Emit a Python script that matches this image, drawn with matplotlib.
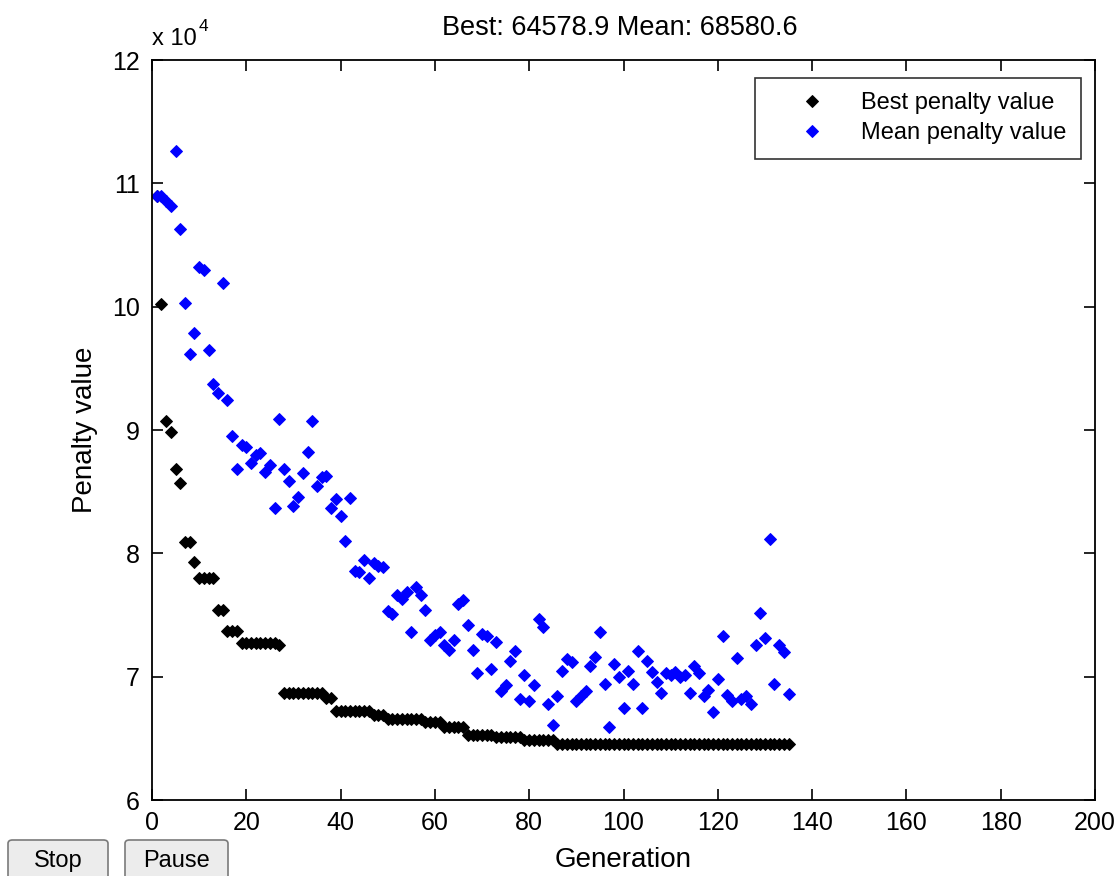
import matplotlib
matplotlib.use("Agg")
import matplotlib.pyplot as plt
from matplotlib.patches import FancyBboxPatch
import numpy as np

plt.rcParams['font.family'] = ['Liberation Sans', 'DejaVu Sans']

# ---------------- data (penalty values in units of 1e4) ----------------
title_text = "Best: 64578.9 Mean: 68580.6"
x_label = "Generation"
y_label = "Penalty value"
legend_labels = ["Best penalty value", "Mean penalty value"]
x_ticks = [0, 20, 40, 60, 80, 100, 120, 140, 160, 180, 200]
y_ticks = [6, 7, 8, 9, 10, 11, 12]
button_labels = ["Stop", "Pause"]

best_penalty = [
    10.90, 10.02, 9.075, 8.98, 8.68, 8.57, 8.09, 8.09, 7.93, 7.80,
    7.80, 7.80, 7.80, 7.54, 7.54, 7.37, 7.37, 7.37, 7.27, 7.27,
    7.27, 7.27, 7.27, 7.27, 7.27, 7.27, 7.26, 6.87, 6.87, 6.87,
    6.87, 6.87, 6.87, 6.87, 6.87, 6.87, 6.83, 6.83, 6.72, 6.72,
    6.72, 6.72, 6.72, 6.72, 6.72, 6.72, 6.69, 6.69, 6.69, 6.66,
    6.66, 6.66, 6.66, 6.66, 6.66, 6.66, 6.66, 6.63, 6.63, 6.63,
    6.63, 6.59, 6.59, 6.59, 6.59, 6.59, 6.53, 6.53, 6.53, 6.53,
    6.53, 6.53, 6.51, 6.51, 6.51, 6.51, 6.51, 6.51, 6.485, 6.485,
    6.485, 6.485, 6.485, 6.485, 6.485, 6.45789, 6.45789, 6.45789, 6.45789, 6.45789,
    6.45789, 6.45789, 6.45789, 6.45789, 6.45789, 6.45789, 6.45789, 6.45789, 6.45789, 6.45789,
    6.45789, 6.45789, 6.45789, 6.45789, 6.45789, 6.45789, 6.45789, 6.45789, 6.45789, 6.45789,
    6.45789, 6.45789, 6.45789, 6.45789, 6.45789, 6.45789, 6.45789, 6.45789, 6.45789, 6.45789,
    6.45789, 6.45789, 6.45789, 6.45789, 6.45789, 6.45789, 6.45789, 6.45789, 6.45789, 6.45789,
    6.45789, 6.45789, 6.45789, 6.45789, 6.45789,
]

mean_penalty = [
    10.90, 10.90, 10.86, 10.82, 11.26, 10.63, 10.03, 9.62, 9.79, 10.32,
    10.30, 9.65, 9.37, 9.30, 10.19, 9.24, 8.95, 8.68, 8.88, 8.86,
    8.73, 8.80, 8.81, 8.66, 8.72, 8.37, 9.09, 8.68, 8.59, 8.38,
    8.46, 8.65, 8.82, 9.07, 8.55, 8.62, 8.63, 8.37, 8.44, 8.30,
    8.10, 8.45, 7.86, 7.85, 7.95, 7.80, 7.92, 7.90, 7.89, 7.53,
    7.51, 7.66, 7.63, 7.69, 7.36, 7.73, 7.66, 7.54, 7.30, 7.34,
    7.36, 7.26, 7.22, 7.30, 7.59, 7.62, 7.42, 7.22, 7.03, 7.35,
    7.33, 7.06, 7.28, 6.88, 6.93, 7.13, 7.21, 6.82, 7.01, 6.80,
    6.93, 7.47, 7.40, 6.78, 6.61, 6.84, 7.05, 7.14, 7.12, 6.80,
    6.84, 6.88, 7.09, 7.16, 7.36, 6.94, 6.59, 7.10, 7.00, 6.75,
    7.05, 6.94, 7.21, 6.75, 7.13, 7.04, 6.96, 6.87, 7.03, 7.01,
    7.04, 7.00, 7.01, 6.87, 7.09, 7.03, 6.84, 6.89, 6.71, 6.98,
    7.33, 6.85, 6.80, 7.15, 6.82, 6.84, 6.78, 7.26, 7.52, 7.31,
    8.12, 6.94, 7.26, 7.20, 6.85806,
]

generations = np.arange(1, len(best_penalty) + 1)

# ---------------- figure ----------------
W, H = 1120, 876
fig = plt.figure(figsize=(W / 100, H / 100), dpi=100, facecolor='white')

ax_l, ax_r, ax_t, ax_b = 152, 1095, 60, 800
ax = fig.add_axes([ax_l / W, 1 - ax_b / H, (ax_r - ax_l) / W, (ax_b - ax_t) / H])

mk = dict(linestyle='none', marker='D', markersize=5.9, markeredgewidth=0.7)
ax.plot(generations, best_penalty, color='black', mec='black', mfc='black',
        label=legend_labels[0], **mk)
ax.plot(generations, mean_penalty, color='blue', mec='blue', mfc='blue',
        label=legend_labels[1], **mk)

ax.set_xlim(0, 200)
ax.set_ylim(6, 12)
ax.set_xticks(x_ticks)
ax.set_yticks(y_ticks)
ax.set_xticklabels([str(t) for t in x_ticks])
ax.set_yticklabels([str(t) for t in y_ticks])
ax.tick_params(direction='in', length=8, width=1.2, top=True, right=True,
               labelsize=18, colors='black')
ax.tick_params(axis='y', pad=9)
ax.tick_params(axis='x', pad=8)
for s in ax.spines.values():
    s.set_linewidth(1.3)
    s.set_color('black')

ax.set_xlabel(x_label, fontsize=20)
ax.xaxis.set_label_coords(0.5, -0.064)
ax.set_ylabel(y_label, fontsize=20)
ax.yaxis.set_label_coords(-0.057, 0.5)

fig.text(620 / W, 1 - 28 / H, title_text, fontsize=19.5, ha='center', va='center')

# exponent label
fig.text(152 / W, 1 - 45 / H, "x 10", fontsize=17, ha='left', va='baseline')
fig.text(199 / W, 1 - 31 / H, "4", fontsize=12.5, ha='left', va='baseline')

leg = ax.legend(loc='upper left', bbox_to_anchor=((755 - ax_l) / (ax_r - ax_l), (ax_b - 78) / (ax_b - ax_t)),
                borderaxespad=0, fontsize=17, frameon=True, fancybox=False,
                edgecolor='black', borderpad=0.6, handlelength=3.6, handletextpad=0.3,
                labelspacing=0.35, numpoints=1)
leg.get_frame().set_linewidth(1.2)

# GUI buttons
for label, (x0, x1) in zip(button_labels, [(8, 108), (125, 228)]):
    y0, y1 = 840, 886
    p = FancyBboxPatch((x0 / W, 1 - y1 / H), (x1 - x0) / W, (y1 - y0) / H,
                       boxstyle="round,pad=0,rounding_size=0.004",
                       transform=fig.transFigure, facecolor='#ececec',
                       edgecolor='#7a7a7a', linewidth=1.2, clip_on=False)
    fig.add_artist(p)
    fig.text((x0 + x1) / 2 / W, 1 - 861 / H, label, fontsize=17,
             ha='center', va='center')

fig.savefig("out.png", dpi=100, facecolor='white')
